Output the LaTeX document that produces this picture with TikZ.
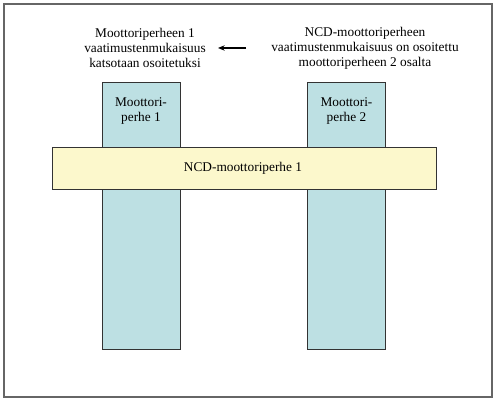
\documentclass[tikz,border=0pt]{standalone}
\usepackage{fontspec}
\setmainfont{Liberation Serif}
\usetikzlibrary{arrows.meta}
\definecolor{colblue}{HTML}{BDE0E3}
\definecolor{baryel}{HTML}{FCF8CC}
\definecolor{edge}{HTML}{333333}
\begin{document}
\begin{tikzpicture}[x=0.75pt,y=-0.75pt,
  column/.style={draw=edge,line width=0.8pt,fill=colblue,minimum width=58.5pt,minimum height=200.25pt,inner sep=0pt,anchor=north west},
  bar/.style={draw=edge,line width=0.8pt,fill=baryel,minimum width=288pt,minimum height=31.5pt,inner sep=0pt,anchor=north west},
  txt/.style={font=\fontsize{10}{11.3}\selectfont,align=center,inner sep=0pt}]
\useasboundingbox (0,0) rectangle (500,406);
\draw[draw=gray!80!black,line width=0.8pt] (4,4) rectangle (492,397);
\node[column] (c1) at (102,82) {};
\node[column] (c2) at (307,82) {};
\node[txt] (t1) at (141,111) {Moottori-\\perhe 1};
\node[txt] (t2) at (346.5,111) {Moottori-\\perhe 2};
\node[bar] (b) at (52,147) {};
\node[txt] (bt) at (243,168) {NCD-moottoriperhe 1};
\node[txt] (l) at (145,48) {Moottoriperheen 1\\vaatimustenmukaisuus\\katsotaan osoitetuksi};
\node[txt] (r) at (365,48) {NCD-moottoriperheen\\vaatimustenmukaisuus on osoitettu\\moottoriperheen 2 osalta};
\coordinate (as) at (246,48);
\coordinate (ae) at (218,48);
\draw[-{Stealth[length=5pt,width=4pt]},line width=0.8pt] (as) -- (ae);
\end{tikzpicture}
\end{document}
